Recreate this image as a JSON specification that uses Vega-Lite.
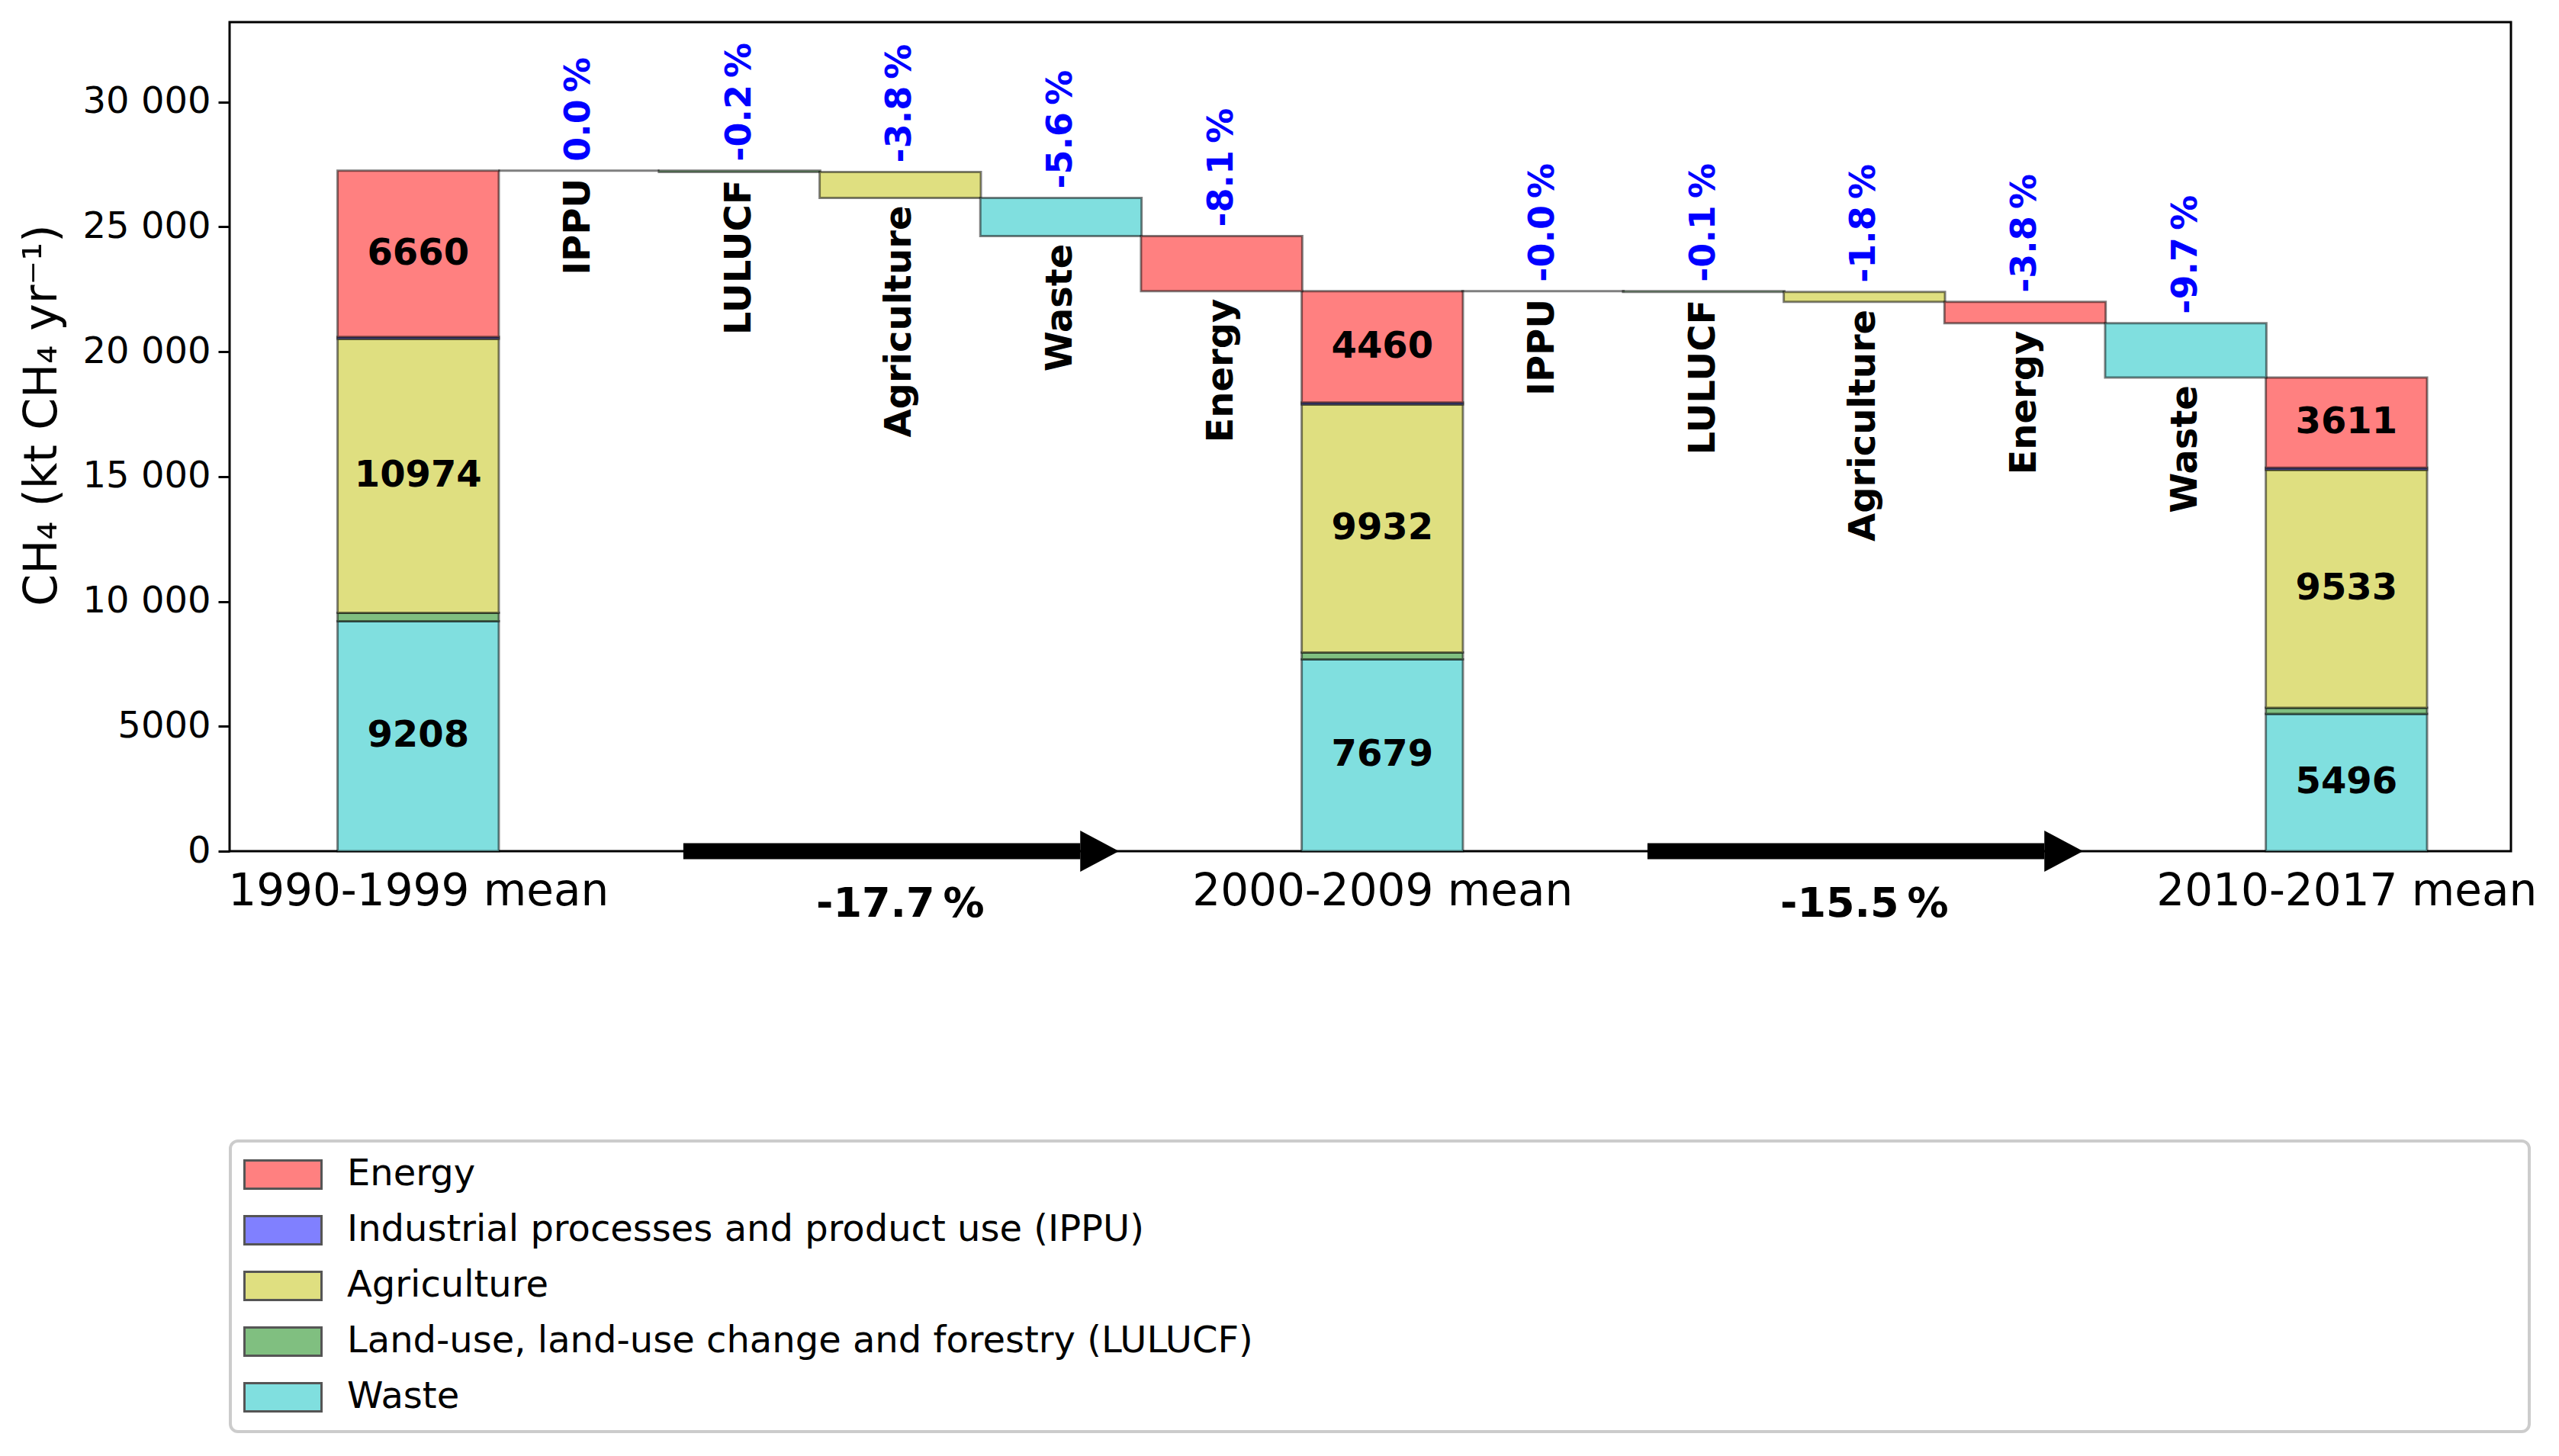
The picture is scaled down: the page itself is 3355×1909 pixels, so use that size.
{
  "$schema": "https://vega.github.io/schema/vega-lite/v6.json",
  "width": 2991,
  "height": 1087,
  "padding": {"left": 25, "top": 29, "right": 0, "bottom": 0},
  "background": "white",
  "config": {
    "view": {"stroke": "black", "strokeWidth": 3},
    "font": "DejaVu Sans"
  },
  "datasets": {
    "stacks": [
      {"slot": 0, "sector": "Waste", "value": 9208, "order": 1},
      {"slot": 0, "sector": "Land-use, land-use change and forestry (LULUCF)", "value": 333, "order": 2},
      {"slot": 0, "sector": "Agriculture", "value": 10974, "order": 3},
      {"slot": 0, "sector": "Industrial processes and product use (IPPU)", "value": 80, "order": 4},
      {"slot": 0, "sector": "Energy", "value": 6660, "order": 5},
      {"slot": 6, "sector": "Waste", "value": 7679, "order": 1},
      {"slot": 6, "sector": "Land-use, land-use change and forestry (LULUCF)", "value": 278, "order": 2},
      {"slot": 6, "sector": "Agriculture", "value": 9932, "order": 3},
      {"slot": 6, "sector": "Industrial processes and product use (IPPU)", "value": 80, "order": 4},
      {"slot": 6, "sector": "Energy", "value": 4460, "order": 5},
      {"slot": 12, "sector": "Waste", "value": 5496, "order": 1},
      {"slot": 12, "sector": "Land-use, land-use change and forestry (LULUCF)", "value": 246, "order": 2},
      {"slot": 12, "sector": "Agriculture", "value": 9533, "order": 3},
      {"slot": 12, "sector": "Industrial processes and product use (IPPU)", "value": 78, "order": 4},
      {"slot": 12, "sector": "Energy", "value": 3611, "order": 5}
    ],
    "steps": [
      {"slot": 1, "sector": "Industrial processes and product use (IPPU)", "name": "IPPU", "start": 27255, "end": 27255, "pct": "0.0\u2009%"},
      {"slot": 2, "sector": "Land-use, land-use change and forestry (LULUCF)", "name": "LULUCF", "start": 27255, "end": 27200, "pct": "-0.2\u2009%"},
      {"slot": 3, "sector": "Agriculture", "name": "Agriculture", "start": 27200, "end": 26158, "pct": "-3.8\u2009%"},
      {"slot": 4, "sector": "Waste", "name": "Waste", "start": 26158, "end": 24629, "pct": "-5.6\u2009%"},
      {"slot": 5, "sector": "Energy", "name": "Energy", "start": 24629, "end": 22429, "pct": "-8.1\u2009%"},
      {"slot": 7, "sector": "Industrial processes and product use (IPPU)", "name": "IPPU", "start": 22429, "end": 22427, "pct": "-0.0\u2009%"},
      {"slot": 8, "sector": "Land-use, land-use change and forestry (LULUCF)", "name": "LULUCF", "start": 22427, "end": 22395, "pct": "-0.1\u2009%"},
      {"slot": 9, "sector": "Agriculture", "name": "Agriculture", "start": 22395, "end": 21996, "pct": "-1.8\u2009%"},
      {"slot": 10, "sector": "Energy", "name": "Energy", "start": 21996, "end": 21147, "pct": "-3.8\u2009%"},
      {"slot": 11, "sector": "Waste", "name": "Waste", "start": 21147, "end": 18964, "pct": "-9.7\u2009%"}
    ],
    "arrows": [
      {"start": 1.65, "headbase": 4.12, "mid": 3, "label": "-17.7\u2009%"},
      {"start": 7.65, "headbase": 10.12, "mid": 9, "label": "-15.5\u2009%"}
    ]
  },
  "layer": [
    {
      "data": {"name": "stacks"},
      "mark": {"type": "bar", "orient": "vertical", "width": 211.4, "stroke": "black", "strokeOpacity": 0.5, "strokeWidth": 3},
      "encoding": {
        "x": {
          "field": "slot", "type": "quantitative", "title": null,
          "scale": {"domain": [-1.15, 13.0], "nice": false, "zero": false},
          "axis": {
            "title": null, "values": [0, 6, 12],
            "labelExpr": "datum.value == 0 ? '1990-1999 mean' : datum.value == 6 ? '2000-2009 mean' : '2010-2017 mean'",
            "labelFont": "DejaVu Sans", "labelFontSize": 58, "labelColor": "black", "labelLimit": 1000,
            "ticks": false, "tickSize": 0, "domain": false, "grid": false,
            "labelPadding": 24, "labelOverlap": false, "labelFlush": false
          }
        },
        "y": {
          "field": "value", "type": "quantitative", "stack": "zero",
          "title": "CH\u2084 (kt CH\u2084 yr\u207b\u00b9)",
          "scale": {"domain": [0, 33200], "nice": false, "zero": false},
          "axis": {
            "title": "CH\u2084 (kt CH\u2084 yr\u207b\u00b9)",
            "values": [0, 5000, 10000, 15000, 20000, 25000, 30000],
            "labelExpr": "datum.value >= 10000 ? format(floor(datum.value / 1000), 'd') + ' 000' : format(datum.value, 'd')",
            "labelFont": "DejaVu Sans", "labelFontSize": 48, "labelColor": "black",
            "tickSize": 15, "tickWidth": 3, "tickColor": "black",
            "domain": false, "grid": false, "labelPadding": 10,
            "titleFont": "DejaVu Sans", "titleFontSize": 60, "titleFontWeight": "normal",
            "titleColor": "black", "titlePadding": 22, "titleY": 515
          }
        },
        "color": {
          "field": "sector", "type": "nominal",
          "scale": {
            "domain": ["Energy", "Industrial processes and product use (IPPU)", "Agriculture", "Land-use, land-use change and forestry (LULUCF)", "Waste"],
            "range": ["#ff8080", "#8080ff", "#dfdf80", "#80bf80", "#80dfdf"]
          },
          "legend": {
            "orient": "none", "legendX": 1, "legendY": 1467, "title": null,
            "symbolType": "M-2.73,-1H2.73V1H-2.73Z", "symbolSize": 1369, "symbolOffset": 25,
            "symbolStrokeColor": "#555555", "symbolStrokeWidth": 3, "symbolOpacity": 1,
            "labelFont": "DejaVu Sans", "labelFontSize": 48, "labelColor": "black",
            "labelOffset": 60, "labelLimit": 3400, "rowPadding": 23, "padding": 20,
            "strokeColor": "#cccccc", "cornerRadius": 10,
            "labelExpr": "datum.label == 'Land-use, land-use change and forestry (LULUCF)' ? pad(datum.label, 94, '\u2800') : datum.label",
            "encode": {"legend": {"update": {"strokeWidth": {"value": 4}}}}
          }
        },
        "order": {"field": "order", "type": "quantitative"}
      }
    },
    {
      "data": {"name": "steps"},
      "mark": {"type": "bar", "orient": "vertical", "width": 211.4, "stroke": "black", "strokeOpacity": 0.5, "strokeWidth": 3},
      "encoding": {
        "x": {"field": "slot", "type": "quantitative", "title": null, "scale": {"domain": [-1.15, 13.0], "nice": false, "zero": false}},
        "y": {"field": "start", "type": "quantitative", "title": "CH\u2084 (kt CH\u2084 yr\u207b\u00b9)", "scale": {"domain": [0, 33200], "nice": false, "zero": false}},
        "y2": {"field": "end"},
        "color": {"field": "sector", "type": "nominal"}
      }
    },
    {
      "data": {"name": "stacks"},
      "mark": {"type": "text", "font": "DejaVu Sans", "fontWeight": "bold", "fontSize": 48, "color": "black", "align": "center", "baseline": "middle"},
      "encoding": {
        "x": {"field": "slot", "type": "quantitative", "title": null, "scale": {"domain": [-1.15, 13.0], "nice": false, "zero": false}},
        "y": {"field": "value", "type": "quantitative", "title": "CH\u2084 (kt CH\u2084 yr\u207b\u00b9)", "stack": "zero", "bandPosition": 0.5, "scale": {"domain": [0, 33200], "nice": false, "zero": false}},
        "detail": {"field": "sector", "type": "nominal"},
        "order": {"field": "order", "type": "quantitative"},
        "text": {"condition": {"test": "datum.value > 1000", "field": "value", "type": "quantitative", "format": "d"}, "value": ""}
      }
    },
    {
      "data": {"name": "steps"},
      "mark": {"type": "text", "font": "DejaVu Sans", "fontWeight": "bold", "fontSize": 46, "color": "#0000ff", "angle": 270, "align": "left", "baseline": "middle", "dx": 12},
      "encoding": {
        "x": {"field": "slot", "type": "quantitative", "title": null, "scale": {"domain": [-1.15, 13.0], "nice": false, "zero": false}},
        "y": {"field": "start", "type": "quantitative", "title": "CH\u2084 (kt CH\u2084 yr\u207b\u00b9)", "scale": {"domain": [0, 33200], "nice": false, "zero": false}},
        "text": {"field": "pct"}
      }
    },
    {
      "data": {"name": "steps"},
      "mark": {"type": "text", "font": "DejaVu Sans", "fontWeight": "bold", "fontSize": 48, "color": "black", "angle": 270, "align": "right", "baseline": "middle", "dx": -10},
      "encoding": {
        "x": {"field": "slot", "type": "quantitative", "title": null, "scale": {"domain": [-1.15, 13.0], "nice": false, "zero": false}},
        "y": {"field": "end", "type": "quantitative", "title": "CH\u2084 (kt CH\u2084 yr\u207b\u00b9)", "scale": {"domain": [0, 33200], "nice": false, "zero": false}},
        "text": {"field": "name"}
      }
    },
    {
      "data": {"name": "arrows"},
      "mark": {"type": "rule", "color": "black", "strokeWidth": 21, "strokeCap": "butt"},
      "encoding": {
        "x": {"field": "start", "type": "quantitative", "title": null, "scale": {"domain": [-1.15, 13.0], "nice": false, "zero": false}},
        "x2": {"field": "headbase"},
        "y": {"datum": 0, "type": "quantitative", "title": "CH\u2084 (kt CH\u2084 yr\u207b\u00b9)", "scale": {"domain": [0, 33200], "nice": false, "zero": false}}
      }
    },
    {
      "data": {"name": "arrows"},
      "mark": {"type": "point", "shape": "M0,-1L1.88,0L0,1Z", "size": 2916, "filled": true, "color": "black", "opacity": 1, "strokeWidth": 0},
      "encoding": {
        "x": {"field": "headbase", "type": "quantitative", "title": null, "scale": {"domain": [-1.15, 13.0], "nice": false, "zero": false}},
        "y": {"datum": 0, "type": "quantitative", "title": "CH\u2084 (kt CH\u2084 yr\u207b\u00b9)", "scale": {"domain": [0, 33200], "nice": false, "zero": false}}
      }
    },
    {
      "data": {"name": "arrows"},
      "mark": {"type": "text", "font": "DejaVu Sans", "fontWeight": "bold", "fontSize": 54, "color": "black", "align": "center", "baseline": "middle", "dy": 70},
      "encoding": {
        "x": {"field": "mid", "type": "quantitative", "title": null, "scale": {"domain": [-1.15, 13.0], "nice": false, "zero": false}},
        "y": {"datum": 0, "type": "quantitative", "title": "CH\u2084 (kt CH\u2084 yr\u207b\u00b9)", "scale": {"domain": [0, 33200], "nice": false, "zero": false}},
        "text": {"field": "label"}
      }
    }
  ]
}
